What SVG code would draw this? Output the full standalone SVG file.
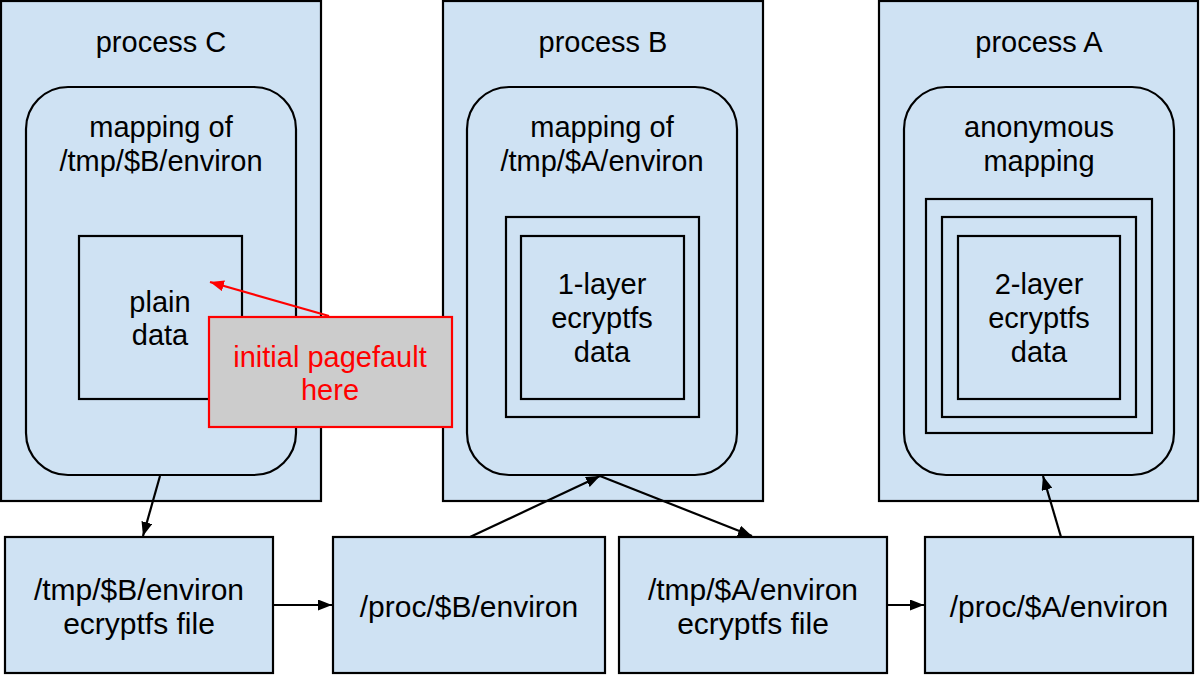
<svg xmlns="http://www.w3.org/2000/svg" width="1200" height="675" viewBox="0 0 1200 675">
<style>
.box{fill:#cfe2f3;stroke:#000;stroke-width:2.2}
.ln{fill:none;stroke:#000;stroke-width:2.2}
text{font-family:"Liberation Sans",Arial,sans-serif;font-size:29px;fill:#000;text-anchor:middle}
.bt{font-size:30px}
.red{fill:#ff0000}
.note{fill:#cccccc;stroke:#ff0000;stroke-width:2.2}
</style>
<defs>
<marker id="ah" viewBox="0 0 14 11" refX="14" refY="5.5" markerWidth="14" markerHeight="11" markerUnits="userSpaceOnUse" orient="auto">
<path d="M0,0 L14,5.5 L0,11 z" fill="#000"/>
</marker>
<marker id="ahr" viewBox="0 0 14 11" refX="14" refY="5.5" markerWidth="14" markerHeight="11" markerUnits="userSpaceOnUse" orient="auto">
<path d="M0,0 L14,5.5 L0,11 z" fill="#ff0000"/>
</marker>
</defs>
<rect width="1200" height="675" fill="#fff"/>

<g id="processC">
<rect class="box" x="1" y="1" width="320" height="500"/>
<text x="161" y="52">process C</text>
<rect class="box" x="26" y="87" width="270" height="388" rx="42" ry="42"/>
<text x="161" y="137">mapping of</text>
<text x="161" y="171">/tmp/$B/environ</text>
<rect class="box" x="79" y="236" width="163" height="163"/>
<text x="160" y="312">plain</text>
<text x="160" y="345">data</text>
</g>

<g id="processB">
<rect class="box" x="443" y="1" width="320" height="500"/>
<text x="603" y="52">process B</text>
<rect class="box" x="467" y="87" width="270" height="388" rx="42" ry="42"/>
<text x="602" y="137">mapping of</text>
<text x="602" y="171">/tmp/$A/environ</text>
<rect class="box" x="506" y="217" width="193" height="200"/>
<rect class="box" x="521" y="236" width="163" height="163"/>
<text x="602" y="294">1-layer</text>
<text x="602" y="328">ecryptfs</text>
<text x="602" y="362">data</text>
</g>

<g id="processA">
<rect class="box" x="879" y="1" width="319" height="500"/>
<text x="1039" y="52">process A</text>
<rect class="box" x="904" y="87" width="270" height="388" rx="42" ry="42"/>
<text x="1039" y="137">anonymous</text>
<text x="1039" y="171">mapping</text>
<rect class="box" x="926" y="199" width="226" height="234"/>
<rect class="box" x="942" y="217" width="194" height="200"/>
<rect class="box" x="958" y="236" width="162" height="163"/>
<text x="1039" y="294">2-layer</text>
<text x="1039" y="328">ecryptfs</text>
<text x="1039" y="362">data</text>
</g>

<g id="tmpB">
<rect class="box" x="5" y="537" width="268" height="136"/>
<text class="bt" x="139" y="600">/tmp/$B/environ</text>
<text class="bt" x="139" y="634">ecryptfs file</text>
</g>
<g id="procB">
<rect class="box" x="333" y="537" width="272" height="136"/>
<text class="bt" x="469" y="617">/proc/$B/environ</text>
</g>
<g id="tmpA">
<rect class="box" x="619" y="537" width="268" height="136"/>
<text class="bt" x="753" y="600">/tmp/$A/environ</text>
<text class="bt" x="753" y="634">ecryptfs file</text>
</g>
<g id="procA">
<rect class="box" x="925" y="537" width="268" height="136"/>
<text class="bt" x="1059" y="617">/proc/$A/environ</text>
</g>

<g id="connectors">
<line class="ln" x1="160" y1="476" x2="143" y2="536" marker-end="url(#ah)"/>
<line class="ln" x1="273" y1="605" x2="332" y2="605" marker-end="url(#ah)"/>
<line class="ln" x1="470" y1="537" x2="600" y2="476" marker-end="url(#ah)"/>
<line class="ln" x1="600" y1="476" x2="752" y2="536" marker-end="url(#ah)"/>
<line class="ln" x1="887" y1="605" x2="924" y2="605" marker-end="url(#ah)"/>
<line class="ln" x1="1061" y1="537" x2="1043" y2="476" marker-end="url(#ah)"/>
<line x1="329" y1="316" x2="210" y2="282" stroke="#ff0000" stroke-width="2.2" marker-end="url(#ahr)"/>
</g>

<g id="note">
<rect class="note" x="209" y="317" width="243" height="110"/>
<text class="red" x="330" y="367">initial pagefault</text>
<text class="red" x="330" y="400">here</text>
</g>
</svg>
